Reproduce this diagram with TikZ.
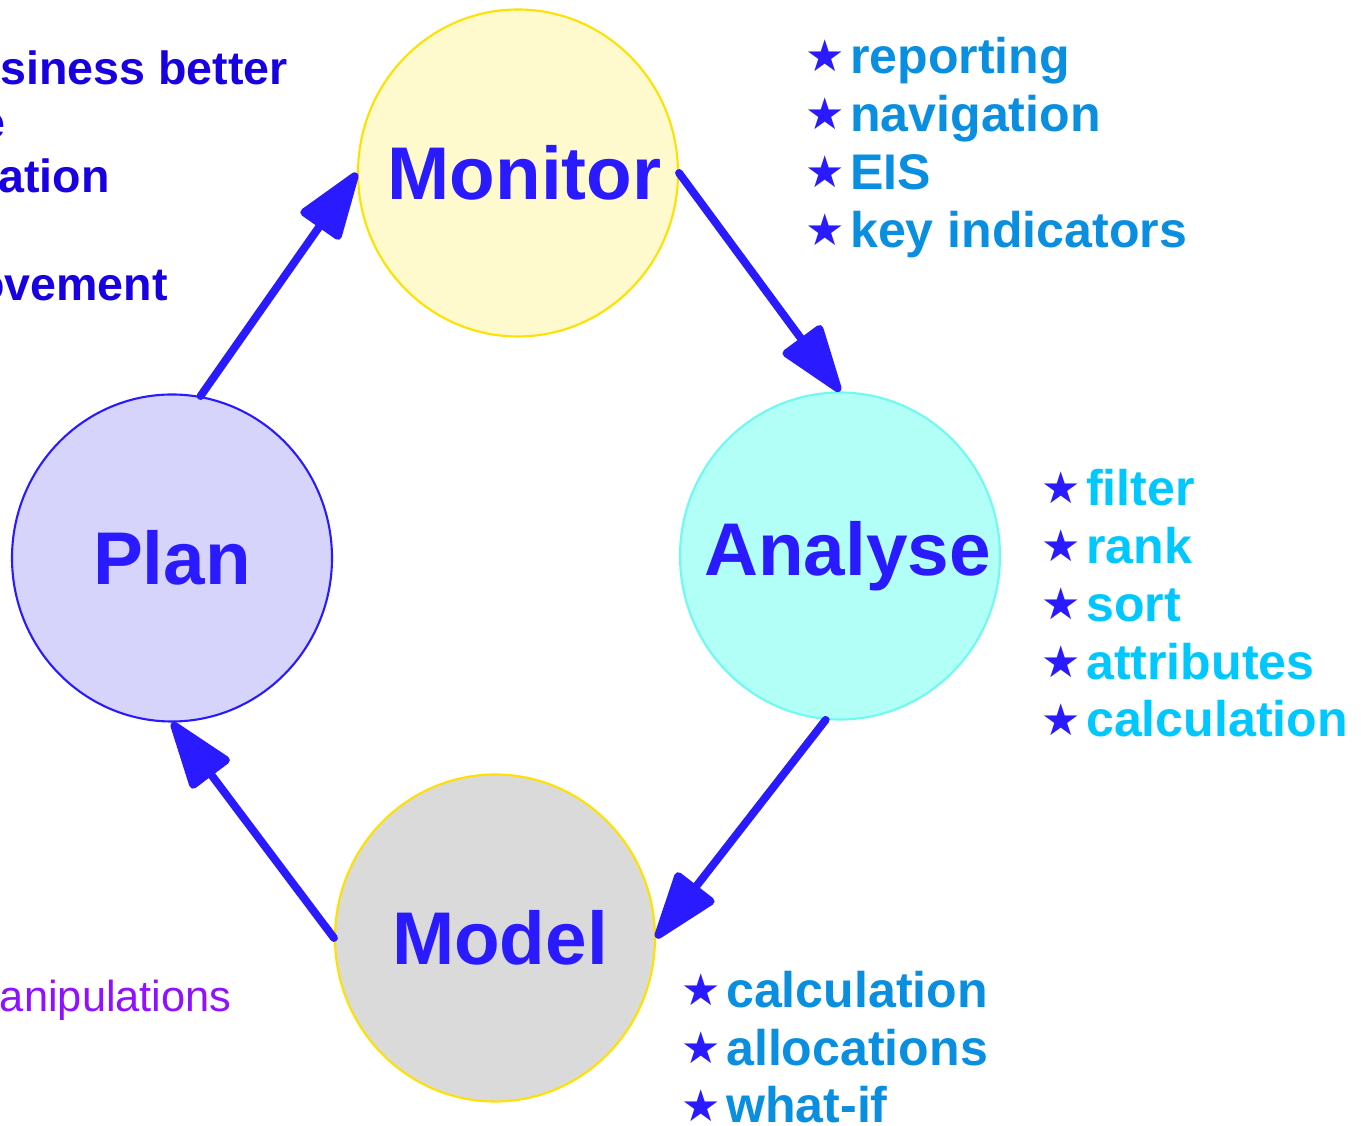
\documentclass[tikz,border=0pt]{standalone}
\usepackage{fontspec}
\setmainfont{Liberation Sans}
\newfontfamily\starfont{DejaVu Sans}
\usetikzlibrary{arrows.meta,shapes.geometric}

\definecolor{cyclblue}{RGB}{42,26,255}
\definecolor{aimblue}{RGB}{24,0,224}
\definecolor{listblue}{RGB}{10,143,224}
\definecolor{listcyan}{RGB}{0,200,255}
\definecolor{manipurple}{RGB}{144,16,255}
\definecolor{goldline}{RGB}{255,225,0}
\definecolor{aqualine}{RGB}{110,250,238}

\tikzset{
stage/.style={ellipse, inner sep=0pt, minimum width=6.4cm, minimum height=6.54cm,
  line width=1.2pt, text=cyclblue, font=\bfseries\fontsize{42.5}{50}\selectfont},
flow/.style={draw=cyclblue, line width=4.5pt, line cap=round,
  -{Triangle[length=1.5cm,width=1.0cm,round]}},
items/.style={anchor=base west, inner sep=0pt, align=left,
  font=\bfseries\fontsize{28.5}{33}\selectfont},
aim/.style={anchor=base east, inner sep=0pt, text=aimblue,
  font=\bfseries\fontsize{26.5}{30}\selectfont}
}
\newcommand{\itm}{{\color{cyclblue}\starfont\fontsize{25}{25}\selectfont\raisebox{1pt}{★}}\hspace{0.11cm}}

\begin{document}
\begin{tikzpicture}
\useasboundingbox (0,0) rectangle (27.22,22.52);
\clip (0,0) rectangle (27.22,22.52);

% the four stages
\node[stage, draw=goldline, fill={rgb,255:red,255;green,250;blue,205}] (monitor) at (10.36,19.06) {\makebox[0pt]{\hspace{0.26cm}Monitor}};
\node[stage, draw=aqualine, fill={rgb,255:red,178;green,255;blue,248}] (analyse) at (16.80,11.40) {\makebox[0pt]{\hspace{0.3cm}Analyse}};
\node[stage, draw=goldline, fill={rgb,255:red,218;green,218;blue,218}] (model) at (9.90,3.76) {\makebox[0pt]{\hspace{0.2cm}Model}};
\node[stage, draw=cyclblue, fill={rgb,255:red,214;green,212;blue,250}] (plan) at (3.44,11.36) {\makebox[0pt]{Plan}};

% cycle
\draw[flow] (plan.80) -- (monitor.west);
\draw[flow] (monitor.east) -- (analyse.north);
\draw[flow] (analyse.265) -- (model.east);
\draw[flow] (model.west) -- (plan.south);

% lists
\node[items, text=listblue] (monlist) at (16.10,17.57)
  {\itm reporting\\ \itm navigation\\ \itm EIS\\ \itm key indicators};
\node[items, text=listcyan] (analist) at (20.82,7.78)
  {\itm filter\\ \itm rank\\ \itm sort\\ \itm attributes\\ \itm calculation};
\node[items, text=listblue] (modlist) at (13.62,0.06)
  {\itm calculation\\ \itm allocations\\ \itm what-if};

% left side
\node[aim] (aim1) at (5.76,20.82) {siness better};
\node[aim] (aim2) at (0.12,19.74) {e};
\node[aim] (aim3) at (2.20,18.66) {ation};
\node[aim] (aim4) at (3.36,16.50) {ovement};
\node[anchor=base east, inner sep=0pt, text=manipurple, font=\fontsize{24.7}{28}\selectfont] (manip) at (4.64,2.28) {anipulations};

\end{tikzpicture}
\end{document}
